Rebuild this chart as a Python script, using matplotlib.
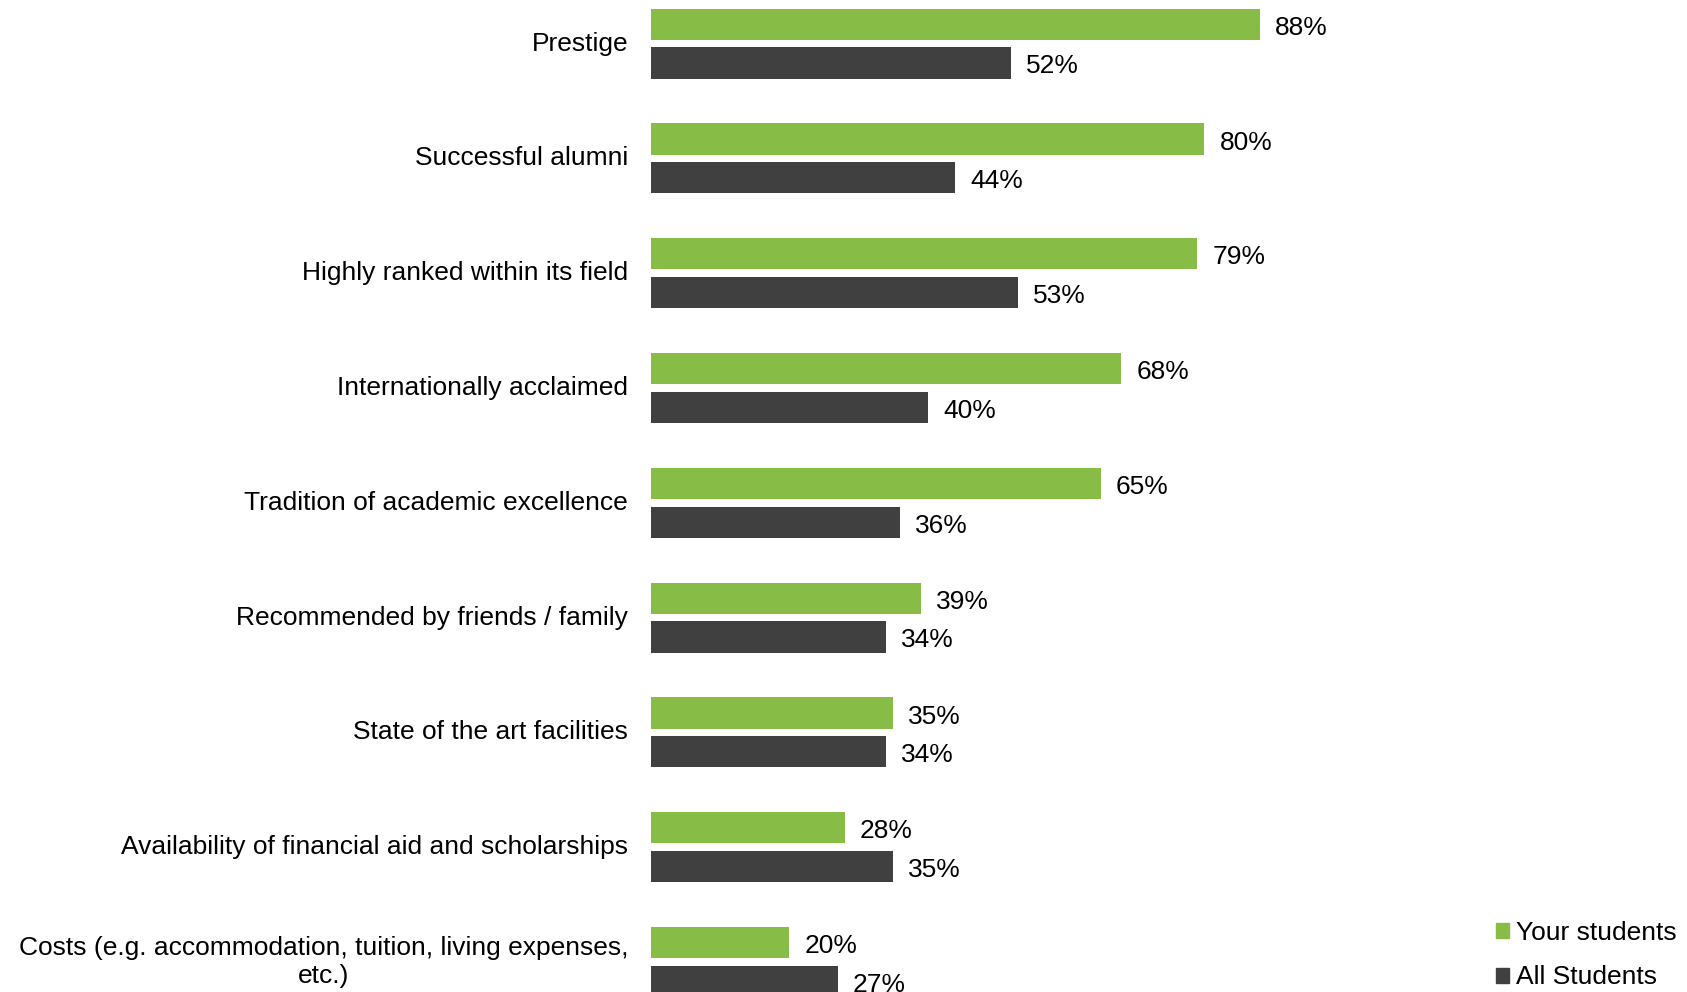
import matplotlib
matplotlib.use('Agg')
import matplotlib.pyplot as plt
from matplotlib.patches import Patch

plt.rcParams['font.family'] = ['Liberation Sans', 'DejaVu Sans']

categories = [
    'Prestige',
    'Successful alumni',
    'Highly ranked within its field',
    'Internationally acclaimed',
    'Tradition of academic excellence',
    'Recommended by friends / family',
    'State of the art facilities',
    'Availability of financial aid and scholarships',
    'Costs (e.g. accommodation, tuition, living expenses,\netc.)',
]
your_students = [88, 80, 79, 68, 65, 39, 35, 28, 20]
all_students = [52, 44, 53, 40, 36, 34, 34, 35, 27]

green = '#87bc47'
dark = '#404040'
fs = 19

fig = plt.figure(figsize=(16.87, 9.92), dpi=100)
ax = fig.add_axes([0.3859, 0.0, 0.41, 1.0])

bar_h = 0.272
off = 0.1686
ys = list(range(len(categories)))
ax.barh([y - off for y in ys], your_students, height=bar_h, color=green)
ax.barh([y + off for y in ys], all_students, height=bar_h, color=dark)

# value labels, nudged a little below the bar centre
nudge = 0.03
for y, v in zip(ys, your_students):
    ax.text(v + 2.2, y - off + nudge, '%d%%' % v, va='center', ha='left',
            fontsize=fs)
for y, v in zip(ys, all_students):
    ax.text(v + 2.2, y + off + nudge, '%d%%' % v, va='center', ha='left',
            fontsize=fs)

# category names sit to the left of the bars
for y, name in zip(ys, categories):
    ax.text(-3.3, y, name, va='center', ha='right', multialignment='center',
            fontsize=fs)

ax.set_xlim(0, 100)
ax.set_ylim(8.261, -0.380)
ax.axis('off')

handles = [Patch(color=green, label='Your students'),
           Patch(color=dark, label='All Students')]
fig.legend(handles=handles, loc='upper left', bbox_to_anchor=(0.879, 0.0847),
           frameon=False, fontsize=fs, handlelength=0.5, handleheight=0.5,
           handletextpad=0.25, labelspacing=0.77, borderpad=0)

fig.savefig('out.png', dpi=100)
